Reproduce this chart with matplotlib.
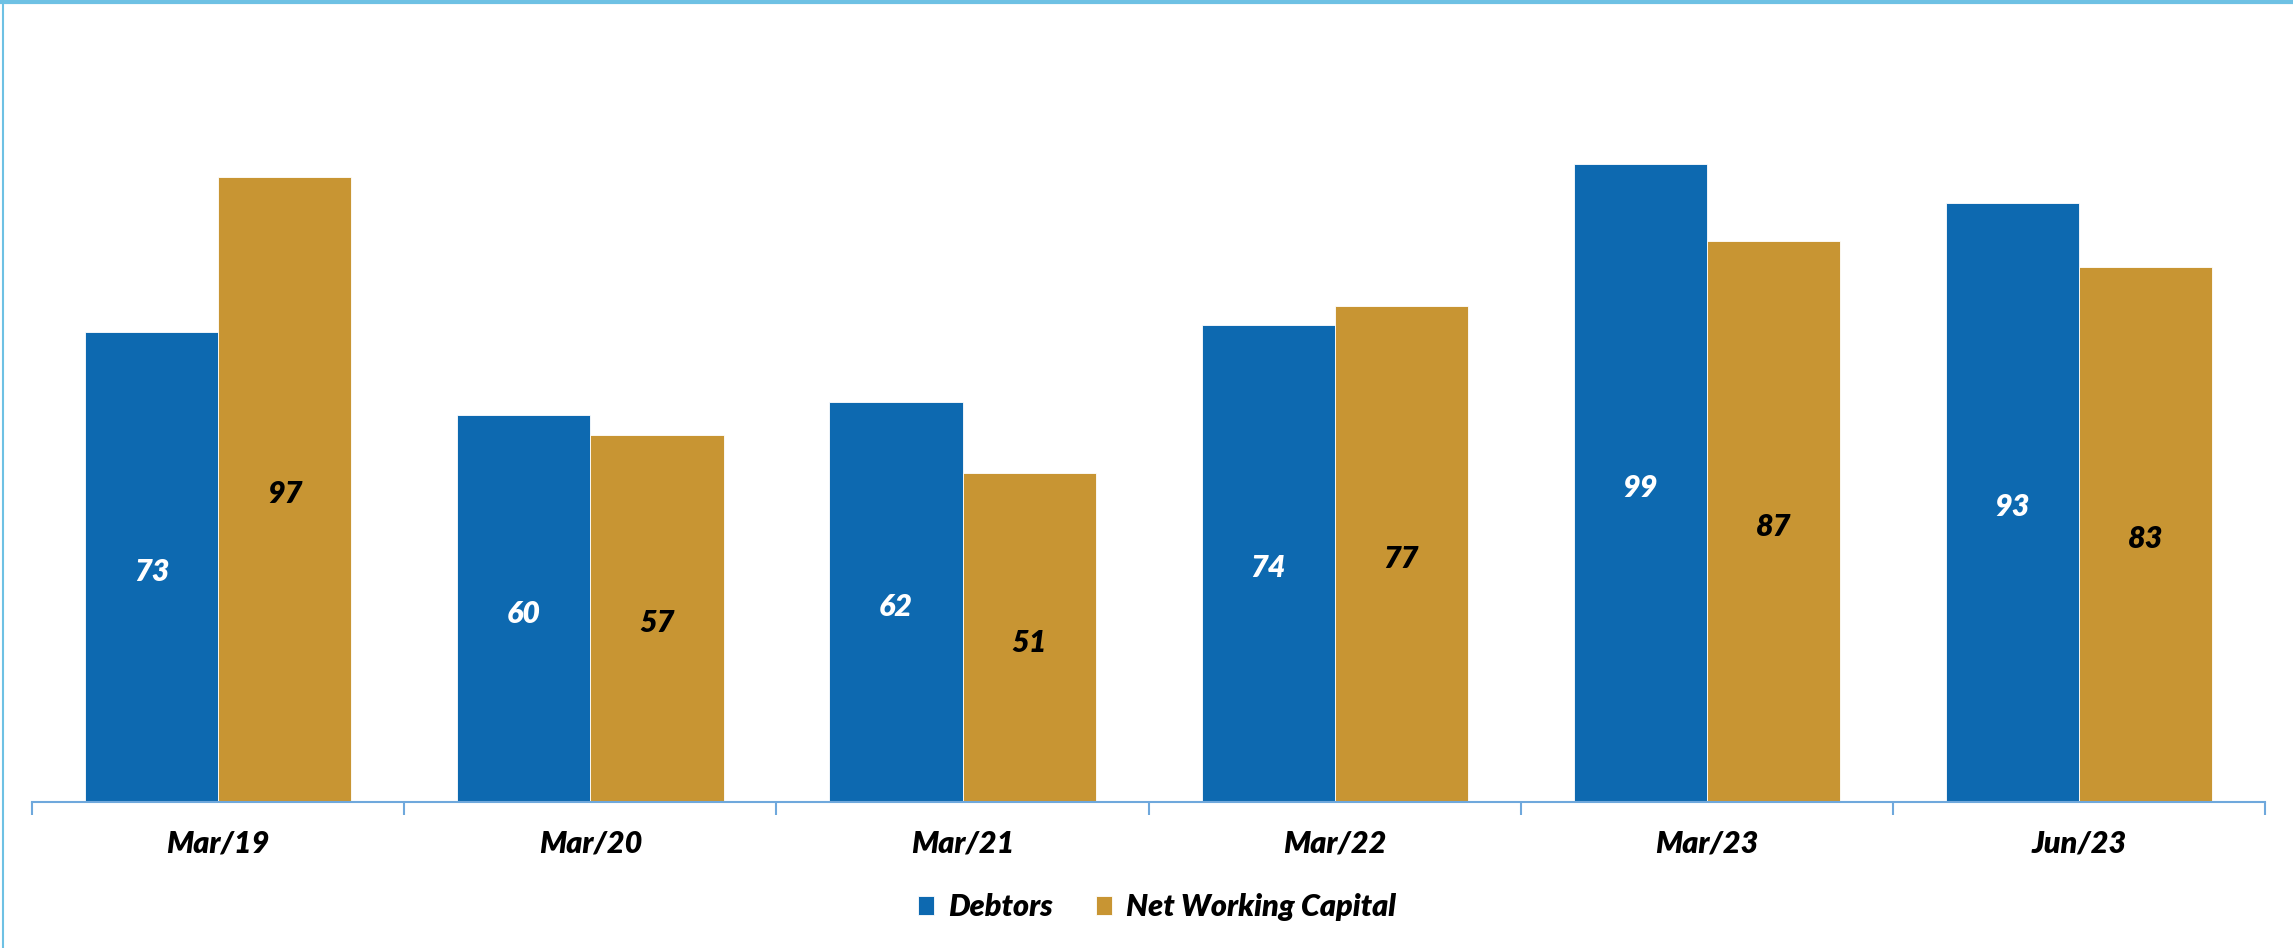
import numpy as np
import matplotlib.pyplot as plt
from matplotlib.lines import Line2D

# data
periods = ["Mar/19", "Mar/20", "Mar/21", "Mar/22", "Mar/23", "Jun/23"]
debtors = [73, 60, 62, 74, 99, 93]
nwc = [97, 57, 51, 77, 87, 83]

blue = "#0D69B0"
gold = "#C89533"
frame_col = "#6EC1E4"
axis_col = "#6FA8DC"

plt.rcParams["font.family"] = ["Lato", "DejaVu Sans"]

fig = plt.figure(figsize=(22.93, 9.48), dpi=100)
ax = fig.add_axes([0.0140, 0.1545, 0.9739, 0.815])

x = np.arange(len(periods))
w = 0.358
b1 = ax.bar(x - w / 2, debtors, w, color=blue, edgecolor="white", linewidth=0.6, label="Debtors")
b2 = ax.bar(x + w / 2, nwc, w, color=gold, edgecolor="white", linewidth=0.6, label="Net Working Capital")

# value labels in the middle of each bar
for rect, v in zip(b1, debtors):
    ax.text(rect.get_x() + rect.get_width() / 2, v / 2 - 0.8, str(v), ha="center", va="center",
            color="white", fontsize=22, fontweight="heavy", fontstyle="italic")
for rect, v in zip(b2, nwc):
    ax.text(rect.get_x() + rect.get_width() / 2, v / 2 - 0.8, str(v), ha="center", va="center",
            color="black", fontsize=22, fontweight="heavy", fontstyle="italic")

ax.set_xlim(-0.5, len(periods) - 0.5)
ax.set_ylim(0, 120)

for s in ["top", "right", "left"]:
    ax.spines[s].set_visible(False)
ax.spines["bottom"].set_color(axis_col)
ax.spines["bottom"].set_linewidth(1.5)
ax.set_yticks([])

# boundary ticks + centred category labels
ax.set_xticks(np.arange(len(periods) + 1) - 0.5)
ax.set_xticklabels([])
ax.tick_params(axis="x", which="major", length=9, width=1.5, color=axis_col, direction="out")
ax.set_xticks(x, minor=True)
ax.set_xticklabels(periods, minor=True, fontsize=22, fontweight="heavy", fontstyle="italic")
ax.tick_params(axis="x", which="minor", length=0, pad=20)

leg = fig.legend(handles=[b1, b2], loc="center", bbox_to_anchor=(0.5045, 0.043), ncol=2, frameon=False,
                 prop={"size": 22, "weight": "heavy", "style": "italic"},
                 handlelength=0.55, handleheight=0.55, handletextpad=0.45, columnspacing=1.4)

# light blue frame: thick top edge, thin left edge
fig.add_artist(Line2D([0, 1], [0.998, 0.998], transform=fig.transFigure, color=frame_col, linewidth=3))
fig.add_artist(Line2D([0.0012, 0.0012], [0, 1], transform=fig.transFigure, color=frame_col, linewidth=1.5))

fig.savefig("out.png", dpi=100)
